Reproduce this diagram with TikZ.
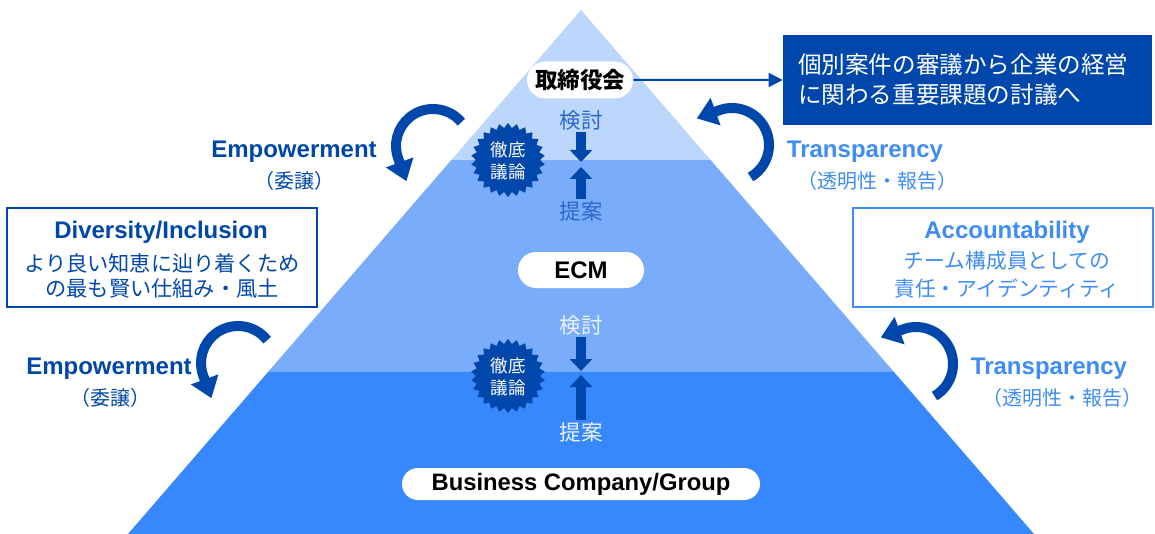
\documentclass[tikz,border=0pt]{standalone}
\usepackage{fontspec}
\setmainfont{Liberation Sans}
\newfontfamily\jp{Noto Sans CJK JP}
\usepackage{tikz}
\usetikzlibrary{positioning, arrows.meta, shapes.geometric, shapes.misc, calc}
\usepackage{xcolor}
\definecolor{layertop}{RGB}{189,215,252}
\definecolor{layermid}{RGB}{121,173,251}
\definecolor{layerbot}{RGB}{55,135,253}
\definecolor{deepblue}{RGB}{0,71,171}
\definecolor{skyblue}{RGB}{62,140,245}
\definecolor{midtext}{RGB}{44,104,204}
\definecolor{paletext}{RGB}{235,243,255}

\begin{document}
\begin{tikzpicture}[x=0.5pt, y=-0.5pt,
  pill/.style={rounded rectangle, fill=white, inner sep=0pt},
  latin/.style={font=\bfseries\fontsize{12pt}{14pt}\selectfont},
  jptext/.style={font=\jp\fontsize{10pt}{12pt}\selectfont},
  steptext/.style={font=\jp\fontsize{10.75pt}{12pt}\selectfont, inner sep=1pt},
  blockarrow/.style={line width=5pt, deepblue, -{Triangle[width=11pt, length=6pt]}},
  turn/.style={line width=5pt, deepblue, line join=round, -{Triangle[width=14pt, length=10pt]}},
  burst/.style={star, star points=26, star point ratio=1.15, fill=deepblue, minimum size=37pt, inner sep=0pt},
  bursttext/.style={text=white, align=center, inner sep=0pt, font=\jp\fontsize{8.75pt}{11pt}\selectfont}]

\useasboundingbox (0,0) rectangle (1155,534);

% pyramid layers
\coordinate (apex) at (581,10);
\coordinate (bl) at (128,534);
\coordinate (br) at (1034,534);
\coordinate (l1) at ($(apex)!0.2863!(bl)$);
\coordinate (r1) at ($(apex)!0.2863!(br)$);
\coordinate (l2) at ($(apex)!0.6908!(bl)$);
\coordinate (r2) at ($(apex)!0.6908!(br)$);
\fill[layertop] (apex) -- (l1) -- (r1) -- cycle;
\fill[layermid] (l1) -- (l2) -- (r2) -- (r1) -- cycle;
\fill[layerbot] (l2) -- (bl) -- (br) -- (r2) -- cycle;

% top level
\node[pill, minimum width=53pt, minimum height=18.5pt, font=\jp\bfseries\fontsize{11.25pt}{13pt}\selectfont] (board) at (580,80) {取締役会};
\node[fill=deepblue, text=white, text width=169.5pt, inner xsep=7.5pt, minimum height=45pt, align=left, font=\jp\fontsize{11.8pt}{15pt}\selectfont] (agenda) at (967.5,80) {個別案件の審議から企業の経営\\に関わる重要課題の討議へ};
\draw[deepblue, line width=1pt, -{Triangle[width=7pt, length=7pt]}] (board) -- (agenda);

\node[steptext, text=midtext] (review1) at (581,120) {検討};
\node[steptext, text=midtext] (propose1) at (581,211) {提案};
\coordinate (meet1a) at (581,162);
\coordinate (meet1b) at (581,167);
\draw[blockarrow] (review1) -- (meet1a);
\draw[blockarrow] (propose1) -- (meet1b);
\node[burst] (burst1) at (508,160) {};
\node[bursttext] (debate1) at (508,161) {徹底\\議論};

% middle level
\node[pill, minimum width=63pt, minimum height=18pt, latin] (ecm) at (581,270) {ECM};

\node[steptext, text=paletext] (review2) at (581,325) {検討};
\node[steptext, text=paletext] (propose2) at (581,432) {提案};
\coordinate (meet2a) at (581,371);
\coordinate (meet2b) at (581,375);
\draw[blockarrow] (review2) -- (meet2a);
\draw[blockarrow] (propose2) -- (meet2b);
\node[burst] (burst2) at (508,376) {};
\node[bursttext] (debate2) at (508,377) {徹底\\議論};

% bottom level
\node[pill, minimum width=179pt, minimum height=16pt, font=\bfseries\fontsize{11.9pt}{14pt}\selectfont] (biz) at (581,484) {Business Company/Group};

% side boxes
\node[draw=deepblue, line width=1pt, minimum width=155pt, minimum height=49.5pt] (divbox) at (162,257.5) {};
\node[latin, text=deepblue] (divtitle) at (161,232) {Diversity/Inclusion};
\node[text=deepblue, align=center, font=\jp\fontsize{10.6pt}{12.8pt}\selectfont] (divtext) at (162,276) {より良い知恵に辿り着くため\\の最も賢い仕組み・風土};

\node[draw=skyblue, line width=1pt, minimum width=150pt, minimum height=49.5pt] (accbox) at (1003,257.5) {};
\node[latin, text=skyblue] (acctitle) at (1007,232) {Accountability};
\node[text=skyblue, align=center, font=\jp\fontsize{10.4pt}{14pt}\selectfont] (acctext) at (1007,275) {チーム構成員としての\\責任・アイデンティティ};

% turning arrows
\coordinate (turnA) at (433,146);
\coordinate (turnB) at (732,145);
\coordinate (turnC) at (238,363);
\coordinate (turnD) at (916,364);
\draw[turn] ($(turnA)+(-40:37)$) arc[start angle=-40, end angle=-200, radius=37] -- ++(70:24);
\draw[turn] ($(turnB)+(60:37)$) arc[start angle=60, end angle=-110, radius=37] -- ++(160:24);
\draw[turn] ($(turnC)+(-38:37)$) arc[start angle=-38, end angle=-200, radius=37] -- ++(70:24);
\draw[turn] ($(turnD)+(60:37)$) arc[start angle=60, end angle=-110, radius=37] -- ++(160:24);

\node[latin, text=deepblue] (empower1) at (294,152) {Empowerment};
\node[jptext, text=deepblue] (delegate1) at (294,181) {（委譲）};
\node[latin, text=deepblue] (empower2) at (109,369) {Empowerment};
\node[jptext, text=deepblue] (delegate2) at (110,398) {（委譲）};
\node[latin, text=skyblue] (transp1) at (865,152) {Transparency};
\node[jptext, text=skyblue] (report1) at (877,181) {（透明性・報告）};
\node[latin, text=skyblue] (transp2) at (1049,369) {Transparency};
\node[jptext, text=skyblue] (report2) at (1062,398) {（透明性・報告）};
\end{tikzpicture}
\end{document}
